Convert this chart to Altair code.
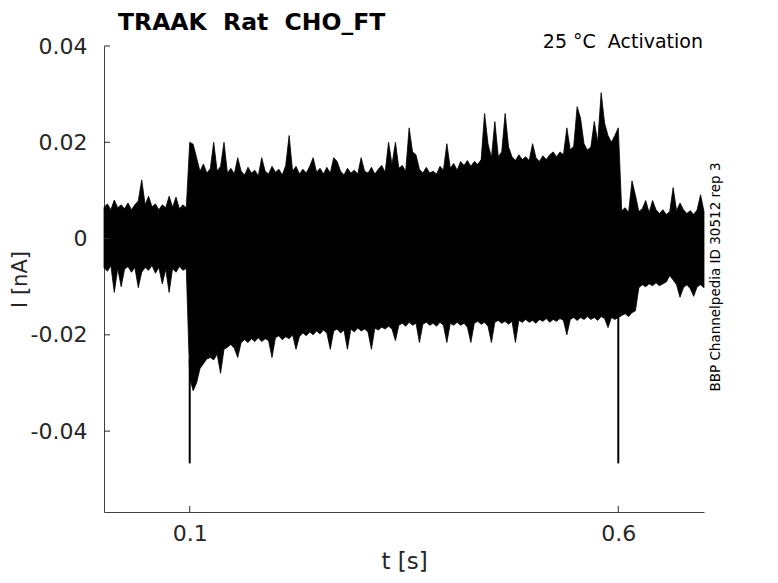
import altair as alt
import pandas as pd

# ---------------- data ----------------
# time grid of the envelope (s)
t_step = 0.004
n_pts = 176
t_vals = [round(i * t_step, 4) for i in range(n_pts)]

# upper envelope of the overlaid sweeps (units of 1e-3 nA)
upper_pre = [6.5, 7.2, 6.0, 8.0, 6.4, 7.0, 6.2, 7.4, 6.0, 7.0, 7.8, 12.2, 7.0,
             8.8, 6.6, 7.2, 6.0, 7.0, 6.4, 8.8, 6.5, 8.6, 6.2, 7.0, 6.4]
upper_pulse = [20.0, 19.6, 16.8, 14.0, 15.5, 13.6, 14.5, 20.0, 14.0, 15.0,
               20.0, 13.6, 14.6, 13.4, 16.8, 14.0, 13.2, 14.8, 13.6, 14.2,
               13.0, 16.8, 14.0, 13.4, 15.0, 13.8, 14.4, 13.2, 15.2, 21.4,
               14.0, 15.0, 13.4, 14.4, 13.6, 15.0, 16.8, 13.8, 14.6, 13.4,
               14.8, 13.6, 16.8, 16.0, 14.0, 13.2, 14.6, 13.6, 14.2, 13.4,
               16.8, 14.0, 13.6, 14.8, 13.4, 14.4, 15.2, 13.8, 20.0, 15.4,
               20.0, 14.6, 15.2, 14.0, 23.0, 18.0, 17.4, 14.4, 13.6, 14.8,
               13.6, 14.0, 13.4, 15.0, 14.2, 19.7, 14.6, 15.6, 14.2, 16.0,
               15.2, 16.2, 15.0, 16.0, 15.4, 16.4, 26.0, 19.7, 16.8, 24.3,
               17.0, 18.0, 26.0, 19.0, 17.0, 16.2, 17.4, 16.4, 17.0, 16.2,
               19.7, 16.8, 16.0, 17.2, 16.4, 17.4, 18.0, 17.0, 18.0, 17.4,
               23.0, 18.4, 19.2, 27.4, 25.0, 19.7, 18.4, 19.0, 24.3, 20.0,
               30.3, 24.0, 21.4, 20.0, 21.4, 23.0]
upper_post = [5.8, 6.4, 5.4, 12.0, 9.0, 5.6, 6.2, 7.9, 5.4, 7.9, 6.0, 5.2, 6.0,
              5.0, 5.6, 10.6, 5.8, 7.4, 6.0, 5.2, 5.8, 5.0, 6.0, 9.1, 5.6]

# lower envelope of the overlaid sweeps (units of 1e-3 nA)
lower_pre = [-6.0, -6.8, -5.6, -11.2, -6.2, -10.0, -6.4, -5.8, -7.0, -6.0,
             -10.2, -7.0, -6.0, -6.6, -5.6, -7.2, -6.0, -9.4, -6.4, -11.2,
             -6.2, -7.0, -5.8, -6.6, -6.2]
lower_pulse = [-29.0, -31.6, -30.0, -27.0, -26.0, -25.0, -24.7, -25.2, -24.0, -28.0,
               -23.0, -22.6, -22.0, -22.8, -24.7, -21.6, -21.0, -21.6, -20.8, -21.4,
               -20.6, -21.4, -20.8, -21.2, -24.7, -20.6, -20.2, -21.0, -20.4, -20.8,
               -20.0, -23.0, -20.4, -19.6, -20.2, -19.4, -20.0, -19.2, -19.8, -19.0,
               -19.6, -23.0, -19.2, -18.8, -19.6, -19.0, -23.0, -18.8, -19.4, -18.6,
               -19.2, -18.8, -19.4, -23.0, -18.6, -19.0, -18.4, -18.8, -18.2, -18.8,
               -21.2, -18.0, -17.6, -18.2, -17.4, -18.0, -17.6, -21.6, -17.8, -17.4,
               -18.0, -17.6, -18.2, -17.4, -18.0, -21.6, -17.6, -18.0, -17.4, -18.0,
               -17.6, -18.4, -21.6, -17.6, -17.2, -17.8, -17.4, -18.2, -21.6, -17.4,
               -17.0, -17.6, -17.2, -17.8, -17.2, -21.6, -17.0, -17.4, -16.8, -17.4,
               -17.0, -17.6, -16.8, -17.2, -16.6, -17.4, -16.8, -17.2, -16.6, -17.0,
               -20.0, -16.8, -16.4, -17.0, -16.4, -16.8, -16.2, -16.8, -16.4, -17.0,
               -16.2, -16.6, -18.5, -16.4, -16.8, -16.4]
lower_post = [-16.0, -15.6, -16.2, -15.4, -15.0, -10.2, -9.6, -10.0, -9.4, -9.8,
              -9.2, -9.8, -9.4, -9.0, -7.7, -8.6, -9.6, -12.2, -10.2, -9.6,
              -10.4, -12.0, -10.0, -9.6, -10.2]

# capacitive spikes at pulse on/off (nA)
spike_t = [0.1, 0.6]
spike_top = [-0.025, -0.016]
spike_bottom = [-0.0467, -0.0467]

x_ticks = [0.1, 0.6]
y_ticks = [-0.04, -0.02, 0, 0.02, 0.04]

# double spaces kept visible with a no-break space
title_text = "TRAAK \u00a0Rat \u00a0CHO_FT"
cond_text = "25 °C \u00a0Activation"
side_text = "BBP Channelpedia ID 30512 rep 3"

# ---------------- chart ----------------
FONT = "DejaVu Sans"
AX = "#262626"
W, H = 600, 466

upper = [v * 1e-3 for v in upper_pre + upper_pulse + upper_post]
lower = [v * 1e-3 for v in lower_pre + lower_pulse + lower_post]
env = pd.DataFrame({"t": t_vals, "upper": upper, "lower": lower})
spikes = pd.DataFrame({"t": spike_t, "top": spike_top, "bottom": spike_bottom})
xt = pd.DataFrame({"v": x_ticks})
yt = pd.DataFrame({"v": y_ticks})

x_scale = alt.Scale(domain=[0, 0.7], nice=False, zero=False)
y_scale = alt.Scale(domain=[-0.0568, 0.04], nice=False, zero=False)

x_axis = alt.Axis(values=x_ticks, format=".1f", title="t [s]", grid=False,
                  ticks=False, tickSize=0, domainColor="#404040", domainWidth=1,
                  labelFont=FONT, labelFontSize=22, labelColor=AX, labelPadding=11,
                  titleFont=FONT, titleFontSize=23, titleFontWeight="normal",
                  titleColor=AX, titlePadding=6)
y_axis = alt.Axis(values=y_ticks, title="I [nA]", grid=False,
                  labelExpr="datum.value == 0 ? '0' : (datum.value < 0 ? '-' + format(-datum.value, '.2f') : format(datum.value, '.2f'))",
                  ticks=False, tickSize=0, domainColor="#404040", domainWidth=1,
                  labelFont=FONT, labelFontSize=22, labelColor=AX, labelPadding=17,
                  titleFont=FONT, titleFontSize=21, titleFontWeight="normal",
                  titleColor=AX, titlePadding=0)

band = alt.Chart(env).mark_area(color="black", stroke="black", strokeWidth=0.8,
                                opacity=1, interpolate="linear").encode(
    x=alt.X("t:Q", scale=x_scale, axis=x_axis),
    y=alt.Y("upper:Q", scale=y_scale, axis=y_axis),
    y2="lower:Q",
)

spike_rules = alt.Chart(spikes).mark_rule(color="black", strokeWidth=2).encode(
    x=alt.X("t:Q", scale=x_scale, axis=x_axis),
    y=alt.Y("top:Q", scale=y_scale, axis=y_axis),
    y2="bottom:Q",
)

xtick_rules = alt.Chart(xt).mark_rule(color=AX, strokeWidth=1).encode(
    x=alt.X("v:Q", scale=x_scale, axis=x_axis),
    y=alt.value(H),
    y2=alt.value(H - 6),
)
ytick_rules = alt.Chart(yt).mark_rule(color=AX, strokeWidth=1).encode(
    y=alt.Y("v:Q", scale=y_scale, axis=y_axis),
    x=alt.value(0),
    x2=alt.value(6),
)

title_mark = alt.Chart(pd.DataFrame({"s": [title_text]})).mark_text(
    font=FONT, fontSize=23.5, fontWeight="bold", color="black",
    align="left", baseline="alphabetic").encode(
    text="s:N", x=alt.value(14), y=alt.value(-16))

cond_mark = alt.Chart(pd.DataFrame({"s": [cond_text]})).mark_text(
    font=FONT, fontSize=19, color="black",
    align="right", baseline="alphabetic").encode(
    text="s:N", x=alt.value(W - 1), y=alt.value(2))

side_mark = alt.Chart(pd.DataFrame({"s": [side_text]})).mark_text(
    font=FONT, fontSize=13.5, color="black", angle=270,
    align="center", baseline="middle").encode(
    text="s:N", x=alt.value(612), y=alt.value(231))

chart = alt.layer(band, spike_rules, xtick_rules, ytick_rules,
                  title_mark, cond_mark, side_mark).properties(
    width=W, height=H,
    autosize=alt.AutoSizeParams(type="none"),
    padding={"left": 96, "top": 38, "right": 60, "bottom": 63},
    background="white",
).configure_view(stroke=None)

chart.save("out.html", embed_options={"renderer": "svg", "actions": False})
